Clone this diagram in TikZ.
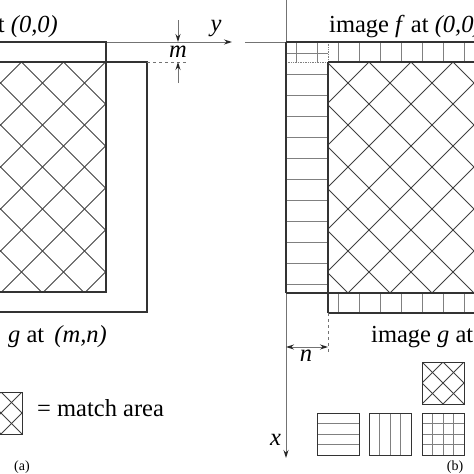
\documentclass[tikz,border=0pt]{standalone}
\usepackage{fontspec}
\setmainfont{Liberation Serif}
\usetikzlibrary{arrows.meta}
\begin{document}
\begin{tikzpicture}[x=1pt,y=-1pt,
  outline/.style={draw=black!80, line width=1.1pt},
  axis/.style={draw=black!55, line width=0.9pt},
  hatch/.style={draw=black!75, line width=0.75pt},
  divider/.style={draw=black!50, line width=0.7pt},
  tip/.tip={Stealth[length=8pt,width=5pt,color=black!85]},
  arr/.style={-tip},
  lbl/.style={font=\fontsize{24.5}{29}\selectfont, inner sep=0pt, text=black},
  smalllbl/.style={font=\fontsize{14}{17}\selectfont, inner sep=0pt, text=black}]
\useasboundingbox (0,0) rectangle (474,474);
\clip (0,0) rectangle (474,474);

% ---------------- panel (a) ----------------
\begin{scope}
  \clip (-5,62) rectangle (106,292);
  \foreach \k in {-10,...,12}{
    \draw[hatch] ({83.5+42*\k-50},50) -- ({83.5+42*\k-300},300);
    \draw[hatch] ({1.5+42*\k+50},50) -- ({1.5+42*\k+300},300);
  }
\end{scope}
\coordinate (fTL) at (-5,42);
\coordinate (fTR) at (106,42);
\coordinate (fBR) at (106,292);
\coordinate (fBL) at (-5,292);
\coordinate (gTL) at (-5,62);
\coordinate (gTR) at (147,62);
\coordinate (gBR) at (147,312);
\coordinate (gBL) at (-5,312);
\coordinate (yEnd) at (232,42);
\draw[axis,arr] (fTL) -- (yEnd);
\draw[outline] (fTL) -- (fTR) -- (fBR) -- (fBL);
\draw[outline] (gTL) -- (gTR) -- (gBR) -- (gBL);
\coordinate (dashEnd) at (186,62);
\draw[axis,dashed] (gTR) -- (dashEnd);
\coordinate (mTopA) at (178,20);
\coordinate (mTopB) at (178,42);
\coordinate (mBotA) at (178,83);
\coordinate (mBotB) at (178,62);
\draw[axis,arr] (mTopA) -- (mTopB);
\draw[axis,arr] (mBotA) -- (mBotB);
\node[lbl, anchor=base] (mlab) at (178,57) {\textit{m}};
\node[lbl, anchor=base] (ylab) at (216,31) {\textit{y}};
\node[lbl, anchor=base east] (ftextA) at (58,32) {at \textit{(0,0)}};
\node[lbl, anchor=base west] (gtextA) at (8,342) {\textit{g} at\, \textit{(m,n)}};

% legend (a)
\begin{scope}
  \clip (-20,392) rectangle (22,434);
  \foreach \k in {-2,...,6}{
    \draw[hatch] ({-20+392+21*\k-380},380) -- ({-20+392+21*\k-450},450);
    \draw[hatch] ({-20-392+21*\k+380},380) -- ({-20-392+21*\k+450},450);
  }
\end{scope}
\draw[outline, line width=0.8pt] (-20,392) rectangle (22,434);
\node[lbl, anchor=base west] (matchtxt) at (37,416.5) {= match area};
\node[smalllbl, anchor=base] (alab) at (22,470.5) {(a)};

% ---------------- panel (b) ----------------
\begin{scope}
  \clip (328,62) rectangle (480,293);
  \foreach \k in {0,...,20}{
    \draw[hatch] ({11+42*\k-50},50) -- ({11+42*\k-300},300);
    \draw[hatch] ({13+42*\k+50},50) -- ({13+42*\k+300},300);
  }
\end{scope}
% strips
\foreach \k in {0,...,9}{
  \draw[divider] ({296.5+21*\k},42) -- ({296.5+21*\k},62);
}
\foreach \k in {0,...,7}{
  \draw[divider] ({338.5+21*\k},293) -- ({338.5+21*\k},313);
}
\foreach \k in {0,...,11}{
  \draw[divider] (286,{53+21*\k}) -- (328,{53+21*\k});
}
\draw[divider, densely dotted] (286,62) -- (328,62);
\draw[divider, densely dotted] (328,42) -- (328,62);
\coordinate (axL) at (245,42);
\coordinate (O) at (286,42);
\coordinate (xTop) at (286,0);
\coordinate (xEnd) at (286,458);
\draw[axis] (axL) -- (O);
\draw[axis,arr] (xTop) -- (xEnd);
\draw[outline] (O) -- (480,42);
\draw[outline] (328,62) -- (480,62);
\draw[outline] (286,293) -- (480,293);
\draw[outline] (328,313) -- (480,313);
\draw[outline] (328,62) -- (328,313);
\draw[outline] (O) -- (286,293);
\coordinate (nDashA) at (328,313);
\coordinate (nDashB) at (328,352);
\draw[axis,dashed] (nDashA) -- (nDashB);
\coordinate (nL) at (286,347);
\coordinate (nR) at (328,347);
\draw[axis,tip-tip] (nL) -- (nR);
\node[lbl, anchor=base] (nlab) at (306,361.5) {\textit{n}};
\node[lbl, anchor=base] (xlab) at (275.5,445.5) {\textit{x}};
\node[lbl, anchor=base west] (ftextB) at (329,32) {image \textit{f} at \textit{(0,0)}};
\node[lbl, anchor=base west] (gtextB) at (371,342) {image \textit{g} at \textit{(m,n)}};

% legend (b)
\begin{scope}
  \clip (422,362) rectangle (464,404);
  \foreach \k in {-2,...,6}{
    \draw[hatch] ({422+362+21*\k-350},350) -- ({422+362+21*\k-420},420);
    \draw[hatch] ({422-362+21*\k+350},350) -- ({422-362+21*\k+420},420);
  }
\end{scope}
\draw[outline, line width=0.8pt] (422,362) rectangle (464,404);
% line-pattern boxes
\foreach \k in {1,2,3}{
  \draw[divider] (317,{413+10.5*\k}) -- (359,{413+10.5*\k});
  \draw[divider] ({369+10.5*\k},413) -- ({369+10.5*\k},455);
  \draw[divider] (422,{413+10.5*\k}) -- (464,{413+10.5*\k});
  \draw[divider] ({422+10.5*\k},413) -- ({422+10.5*\k},455);
}
\draw[outline, line width=0.8pt] (317,413) rectangle (359,455);
\draw[outline, line width=0.8pt] (369,413) rectangle (411,455);
\draw[outline, line width=0.8pt] (422,413) rectangle (464,455);
\node[smalllbl, anchor=base] (blab) at (455,470) {(b)};
\end{tikzpicture}
\end{document}
